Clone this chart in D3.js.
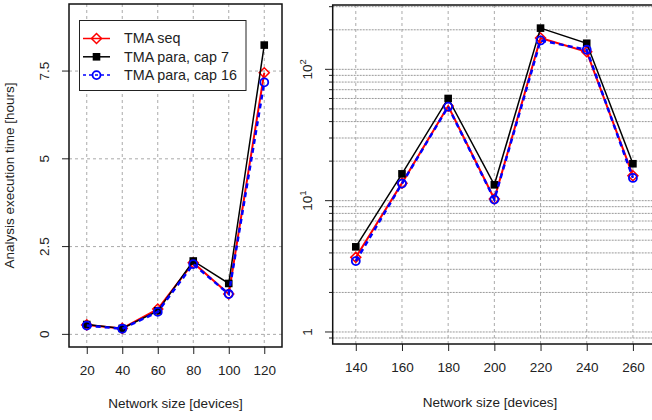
<!DOCTYPE html>
<html>
<head>
<meta charset="utf-8">
<script src="https://cdn.jsdelivr.net/npm/d3@7"></script>
<style>
  body { margin: 0; background: #fff; }
  text { font-family: "Liberation Sans", Arial, sans-serif; fill: #222; }
</style>
</head>
<body>
<script>
// values
var sizesSmall = [20, 40, 60, 80, 100, 120];
var seqSmall = [0.27, 0.17, 0.72, 2.04, 1.15, 7.45];
var para7Small = [0.28, 0.17, 0.67, 2.09, 1.45, 8.24];
var para16Small = [0.25, 0.16, 0.64, 2.00, 1.15, 7.18];

var sizesLarge = [140, 160, 180, 200, 220, 240, 260];
var seqLarge = [3.7, 13.6, 52.5, 10.3, 173, 136, 15.5];
var para7Large = [4.45, 16.0, 60, 13.2, 206, 158, 19.1];
var para16Large = [3.47, 13.5, 52, 10.2, 166, 141, 14.9];

var smallTicksX = [20, 40, 60, 80, 100, 120];
var smallTicksY = [0, 2.5, 5, 7.5];
var smallTickLabelsY = ["0", "2.5", "5", "7.5"];
var largeTicksX = [140, 160, 180, 200, 220, 240, 260];
var largeTicksY = [1, 10, 100];

var seriesNames = ["TMA seq", "TMA para, cap 7", "TMA para, cap 16"];

var W = 652, H = 420;
var svg = d3.select("body").append("svg")
    .attr("width", W)
    .attr("height", H);

var styles = [
  {color: "red", width: 2, dash: null, marker: "diamond"},
  {color: "black", width: 1.5, dash: null, marker: "square"},
  {color: "blue", width: 2.5, dash: "5,4", marker: "circle"}
];

function drawMarker(g, type, color, x, y) {
  if (type === "diamond") {
    g.append("path")
      .attr("d", "M" + x + "," + (y - 5) + "L" + (x + 5) + "," + y + "L" + x + "," + (y + 5) + "L" + (x - 5) + "," + y + "Z")
      .attr("fill", "none").attr("stroke", color).attr("stroke-width", 1.5);
  } else if (type === "square") {
    g.append("rect")
      .attr("x", x - 3.8).attr("y", y - 3.8).attr("width", 7.6).attr("height", 7.6)
      .attr("fill", color);
  } else {
    g.append("circle")
      .attr("cx", x).attr("cy", y).attr("r", 4)
      .attr("fill", "none").attr("stroke", color).attr("stroke-width", 1.8);
  }
}

function drawSeries(g, xs, ys, x, y, st) {
  var line = d3.line()
    .x(function(d, i) { return x(xs[i]); })
    .y(function(d) { return y(d); });
  g.append("path")
    .attr("d", line(ys))
    .attr("fill", "none")
    .attr("stroke", st.color)
    .attr("stroke-width", st.width)
    .attr("stroke-dasharray", st.dash);
  ys.forEach(function(v, i) {
    drawMarker(g, st.marker, st.color, x(xs[i]), y(v));
  });
}

// ---------- left panel ----------
var xL = d3.scaleLinear().domain([10, 130]).range([69, 282]);
var yL = d3.scaleLinear().domain([-0.36, 9.41]).range([347, 4]);

var left = svg.append("g");

// grid
left.selectAll(".vgrid").data(smallTicksX).enter().append("line")
    .attr("x1", function(d) { return xL(d); })
    .attr("x2", function(d) { return xL(d); })
    .attr("y1", 4).attr("y2", 347)
    .attr("stroke", "#aaa").attr("stroke-dasharray", "3,3");
left.selectAll(".hgrid").data(smallTicksY).enter().append("line")
    .attr("y1", function(d) { return yL(d); })
    .attr("y2", function(d) { return yL(d); })
    .attr("x1", 69).attr("x2", 282)
    .attr("stroke", "#aaa").attr("stroke-dasharray", "3,3");

// axes
var axL = left.append("g").attr("transform", "translate(0,347)")
    .call(d3.axisBottom(xL).tickValues(smallTicksX).tickSize(7).tickPadding(11));
var ayL = left.append("g").attr("transform", "translate(69,0)")
    .call(d3.axisLeft(yL).tickValues(smallTicksY).tickSize(7)
      .tickFormat(function(d, i) { return smallTickLabelsY[i]; }));
[axL, ayL].forEach(function(a) {
  a.select(".domain").remove();
  a.selectAll("line").attr("stroke", "#222");
  a.selectAll("text").attr("font-size", 13.5).attr("fill", "#222")
    .attr("font-family", "Liberation Sans, Arial, sans-serif");
});
ayL.selectAll("text")
    .attr("x", null).attr("dy", null)
    .attr("text-anchor", "middle")
    .attr("transform", function(d) { return "translate(-20," + yL(d) + ") rotate(-90)"; })
    .attr("y", 0);
ayL.selectAll(".tick").attr("transform", null);
ayL.selectAll(".tick line")
    .attr("y1", function(d) { return yL(d); })
    .attr("y2", function(d) { return yL(d); });

left.append("rect")
    .attr("x", 69).attr("y", 4).attr("width", 213).attr("height", 343)
    .attr("fill", "none").attr("stroke", "#111").attr("stroke-width", 1.5);

drawSeries(left, sizesSmall, seqSmall, xL, yL, styles[0]);
drawSeries(left, sizesSmall, para7Small, xL, yL, styles[1]);
drawSeries(left, sizesSmall, para16Small, xL, yL, styles[2]);

left.append("text")
    .attr("x", 175.5).attr("y", 408)
    .attr("text-anchor", "middle").attr("font-size", 13.5)
    .text("Network size [devices]");
left.append("text")
    .attr("transform", "translate(14,175.5) rotate(-90)")
    .attr("text-anchor", "middle").attr("font-size", 13.5)
    .text("Analysis execution time [hours]");

// legend
var leg = left.append("g");
leg.append("rect")
    .attr("x", 79.5).attr("y", 20.5).attr("width", 166.5).attr("height", 70)
    .attr("fill", "#fff").attr("stroke", "#222").attr("stroke-width", 1);
seriesNames.forEach(function(name, i) {
  var ly = 38.5 + i * 18.3;
  var st = styles[i];
  leg.append("line")
    .attr("x1", 83).attr("x2", 110).attr("y1", ly).attr("y2", ly)
    .attr("stroke", st.color).attr("stroke-width", 1.5)
    .attr("stroke-dasharray", st.dash ? "3,3" : null);
  drawMarker(leg, st.marker, st.color, 96.5, ly);
  leg.append("text")
    .attr("x", 124).attr("y", ly + 4.8)
    .attr("font-size", 14.3)
    .text(name);
});

// ---------- right panel ----------
var xR = d3.scaleLinear().domain([130, 270]).range([332.7, 656]);
var yR = d3.scaleLog().domain([0.81, 309]).range([344, 5]);

var right = svg.append("g");

var logGrid = [0.9];
[1, 10, 100].forEach(function(dec) {
  for (var k = 1; k <= 9; k++) {
    if (dec * k <= 300) logGrid.push(dec * k);
  }
});
var minorTicks = logGrid.filter(function(d) { return largeTicksY.indexOf(d) < 0; });

right.selectAll(".vgrid").data(largeTicksX).enter().append("line")
    .attr("x1", function(d) { return xR(d); })
    .attr("x2", function(d) { return xR(d); })
    .attr("y1", 5).attr("y2", 344)
    .attr("stroke", "#aaa").attr("stroke-dasharray", "3,3");
right.selectAll(".hgrid").data(logGrid).enter().append("line")
    .attr("y1", function(d) { return yR(d); })
    .attr("y2", function(d) { return yR(d); })
    .attr("x1", 332.7).attr("x2", 656)
    .attr("stroke", "#999").attr("stroke-dasharray", "2,1");

var axR = right.append("g").attr("transform", "translate(0,344)")
    .call(d3.axisBottom(xR).tickValues(largeTicksX).tickSize(7).tickPadding(11));
axR.select(".domain").remove();
axR.selectAll("line").attr("stroke", "#222");
axR.selectAll("text").attr("font-size", 13.5).attr("fill", "#222")
    .attr("font-family", "Liberation Sans, Arial, sans-serif");

// y ticks on log axis
right.selectAll(".ymajor").data(largeTicksY).enter().append("line")
    .attr("x1", 325).attr("x2", 332.7)
    .attr("y1", function(d) { return yR(d); })
    .attr("y2", function(d) { return yR(d); })
    .attr("stroke", "#222");
right.selectAll(".yminor").data(minorTicks).enter().append("line")
    .attr("x1", 329).attr("x2", 332.7)
    .attr("y1", function(d) { return yR(d); })
    .attr("y2", function(d) { return yR(d); })
    .attr("stroke", "#222");

largeTicksY.forEach(function(d) {
  var t = right.append("text")
    .attr("transform", "translate(312," + yR(d) + ") rotate(-90)")
    .attr("text-anchor", "middle")
    .attr("font-size", 13.5);
  if (d === 1) {
    t.text("1");
  } else {
    t.append("tspan").text("10");
    t.append("tspan").attr("font-size", 9.5).attr("dy", -6)
      .text(String(Math.round(Math.log10(d))));
  }
});

right.append("rect")
    .attr("x", 332.7).attr("y", 5).attr("width", 323.3).attr("height", 339)
    .attr("fill", "none").attr("stroke", "#111").attr("stroke-width", 1.5);

drawSeries(right, sizesLarge, seqLarge, xR, yR, styles[0]);
drawSeries(right, sizesLarge, para7Large, xR, yR, styles[1]);
drawSeries(right, sizesLarge, para16Large, xR, yR, styles[2]);

right.append("text")
    .attr("x", 490).attr("y", 407)
    .attr("text-anchor", "middle").attr("font-size", 13.5)
    .text("Network size [devices]");
</script>
</body>
</html>
